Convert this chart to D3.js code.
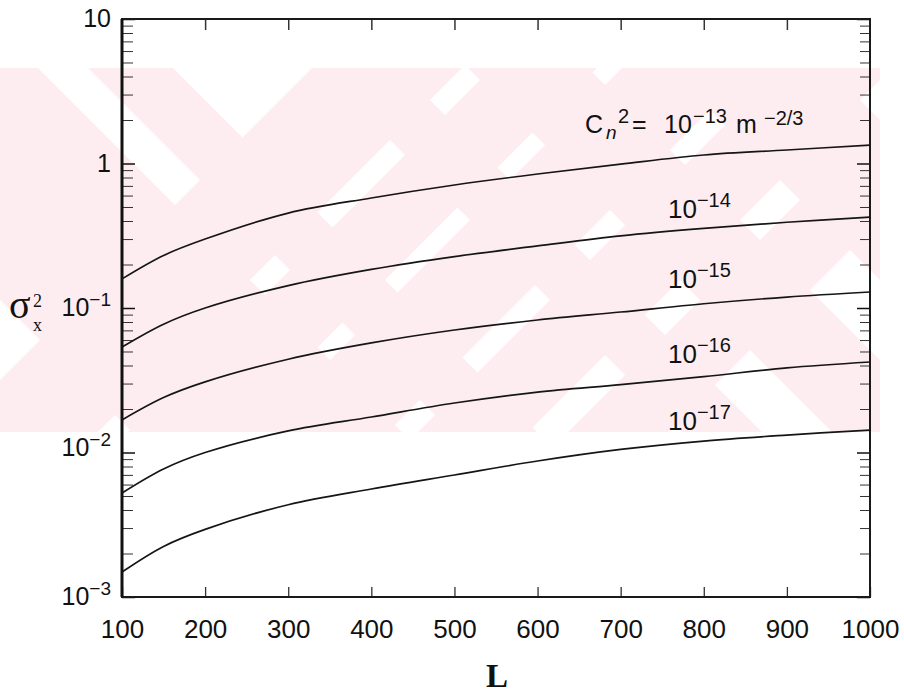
<!DOCTYPE html>
<html>
<head>
<meta charset="utf-8">
<script src="https://cdn.jsdelivr.net/npm/d3@7"></script>
<style>
    body { margin: 0; background: #fff; }
    svg text { font-family: "Liberation Sans", Arial, sans-serif; fill: #111; }
</style>
</head>
<body>
<svg id="chart" width="904" height="693"></svg>
<script>
/** Chart data **/
var L_values   = [100, 150, 200, 300, 400, 500, 600, 700, 800, 900, 1000];
var sigma_cn13 = [0.159, 0.231, 0.300, 0.454, 0.577, 0.710, 0.846, 0.99, 1.145, 1.24, 1.34];
var sigma_cn14 = [0.0537, 0.0773, 0.100, 0.143, 0.185, 0.227, 0.269, 0.316, 0.356, 0.392, 0.426];
var sigma_cn15 = [0.0168, 0.0240, 0.0308, 0.0442, 0.0573, 0.0704, 0.0826, 0.0938, 0.107, 0.119, 0.129];
var sigma_cn16 = [0.00525, 0.0077, 0.0100, 0.0141, 0.0176, 0.0220, 0.0262, 0.0295, 0.0335, 0.0385, 0.0423];
var sigma_cn17 = [0.00149, 0.00224, 0.00294, 0.00435, 0.00559, 0.00699, 0.00873, 0.0105, 0.0120, 0.0132, 0.0143];

var xTicks      = [100, 200, 300, 400, 500, 600, 700, 800, 900, 1000];
var yMajorTicks = [1e-3, 1e-2, 1e-1, 1, 10];
var yTickBase   = ["10", "10", "10", "1", "10"];
var yTickExp    = ["\u22123", "\u22122", "\u22121", "", ""];
var curveExp    = ["\u221214", "\u221215", "\u221216", "\u221217"];


var plot_left = 122;
var plot_right = 870;
var plot_top = 19;
var plot_bottom = 597;
var line_color = '#151515';
var tickColor = '#333';

var svg = d3.select("#chart");

var xScale = d3.scaleLinear()
    .domain([100, 1000])
    .range([plot_left, plot_right]);

var yScale = d3.scaleLog()
    .domain([1e-3, 10])
    .range([plot_bottom, plot_top]);


// Faint pink watermark in the background (diagonal bands).
svg.append("clipPath").attr("id", "wmClip")
    .append("rect")
    .attr("x", 0).attr("y", 68)
    .attr("width", 880).attr("height", 364);

// bands as [direction, c0, c1]: '/' means x+y in [c0,c1], '\' means x-y in [c0,c1]
var wmBands = [
    ['\\', -300, -30], ['\\', 20, 105], ['\\', 250, 330], ['\\', 400, 520], ['\\', 600, 760],
    ['/', 380, 530], ['/', 560, 665], ['/', 690, 820], ['/', 850, 960], ['/', 1000, 1100]
];
svg.append("g")
    .attr("clip-path", "url(#wmClip)")
    .selectAll("polygon")
    .data(wmBands)
    .enter()
    .append("polygon")
    .attr("points", function(d) {
        var y0 = 0, y1 = 700;
        if (d[0] == '/') {
            return [[d[2] - y0, y0], [d[1] - y0, y0], [d[1] - y1, y1], [d[2] - y1, y1]].join(" ");
        }
        return [[d[1] + y0, y0], [d[2] + y0, y0], [d[2] + y1, y1], [d[1] + y1, y1]].join(" ");
    })
    .style("fill", "#fdedf0");


// Minor log ticks (2..9 times each decade).
var yMinorTicks = [];
[1e-3, 1e-2, 1e-1, 1].forEach(function(dec) {
    for (var k = 2; k <= 9; k++) yMinorTicks.push(dec * k);
});

svg.append("g")
    .attr("transform", "translate(" + plot_left + ",0)")
    .call(d3.axisLeft(yScale).tickValues(yMinorTicks).tickSizeInner(-11).tickSizeOuter(0).tickFormat(""))
    .call(function(g) { g.select(".domain").remove(); g.selectAll("line").attr("stroke", tickColor); });

svg.append("g")
    .attr("transform", "translate(" + plot_right + ",0)")
    .call(d3.axisRight(yScale).tickValues(yMinorTicks).tickSizeInner(-10).tickSizeOuter(0).tickFormat(""))
    .call(function(g) { g.select(".domain").remove(); g.selectAll("line").attr("stroke", tickColor); });

svg.append("g")
    .attr("transform", "translate(" + plot_right + ",0)")
    .call(d3.axisRight(yScale).tickValues(yMajorTicks).tickSizeInner(-13).tickSizeOuter(0).tickFormat(""))
    .call(function(g) { g.select(".domain").remove(); g.selectAll("line").attr("stroke", "#111").attr("stroke-width", 1.5); });

// Left axis with major ticks and labels (10 with superscript exponent).
var yAxisG = svg.append("g")
    .attr("transform", "translate(" + plot_left + ",0)")
    .call(d3.axisLeft(yScale).tickValues(yMajorTicks).tickSizeInner(-13).tickSizeOuter(0).tickPadding(11).tickFormat(""));
yAxisG.select(".domain").remove();
yAxisG.selectAll("line").attr("stroke", "#111").attr("stroke-width", 1.5);
yAxisG.selectAll(".tick text")
    .attr("fill", "#111")
    .style("font-size", "25px")
    .attr("dy", function(d) { return d == 1e-2 ? "0.1em" : "0.3em"; })
    .each(function(d, i) {
        var t = d3.select(this);
        t.append("tspan").text(yTickBase[i]);
        if (yTickExp[i] != "") {
            t.append("tspan").attr("dy", -10).style("font-size", "19px").text(yTickExp[i]);
        }
    });

// Bottom axis, ticks pointing inward.
var xAxisG = svg.append("g")
    .attr("transform", "translate(0," + plot_bottom + ")")
    .call(d3.axisBottom(xScale).tickValues(xTicks).tickSizeInner(-10).tickSizeOuter(0).tickPadding(23).tickFormat(d3.format("d")));
xAxisG.select(".domain").remove();
xAxisG.selectAll("line").attr("stroke", tickColor).attr("stroke-width", 1.3);
xAxisG.selectAll("text").attr("fill", "#111").style("font-size", "26px");

// Top axis, ticks only.
svg.append("g")
    .attr("transform", "translate(0," + plot_top + ")")
    .call(d3.axisTop(xScale).tickValues(xTicks.slice(1, 9)).tickSizeInner(-11).tickSizeOuter(0).tickFormat(""))
    .call(function(g) { g.select(".domain").remove(); g.selectAll("line").attr("stroke", tickColor).attr("stroke-width", 1.5); });

// Frame.
svg.append("rect")
    .attr("x", plot_left).attr("y", plot_top)
    .attr("width", plot_right - plot_left)
    .attr("height", plot_bottom - plot_top)
    .style("fill", "none")
    .style("stroke", "#1a1a1a")
    .style("stroke-width", 2);
svg.append("line")
    .attr("x1", plot_left).attr("x2", plot_left)
    .attr("y1", plot_top).attr("y2", plot_bottom)
    .style("stroke", "#111")
    .style("stroke-width", 3);


// Curves.
var series = [sigma_cn13, sigma_cn14, sigma_cn15, sigma_cn16, sigma_cn17];

var line = d3.line()
    .x(function(d, i) { return xScale(L_values[i]); })
    .y(function(d) { return yScale(d); })
    .curve(d3.curveCatmullRom.alpha(0.5));

svg.append("g")
    .selectAll("path")
    .data(series)
    .enter()
    .append("path")
    .attr("d", line)
    .style("fill", "none")
    .style("stroke", line_color)
    .style("stroke-width", 1.7);


// Curve labels.
var lab = svg.append("text").style("font-size", "25px");
lab.append("tspan").attr("x", 585).attr("y", 133).text("C");
lab.append("tspan").attr("x", 606).attr("y", 139).style("font-style", "italic").style("font-size", "19px").text("n");
lab.append("tspan").attr("x", 618).attr("y", 123).style("font-size", "20px").text("2");
lab.append("tspan").attr("x", 632).attr("y", 133).text("=");
lab.append("tspan").attr("x", 664).attr("y", 133).text("10");
lab.append("tspan").attr("x", 693).attr("y", 123).style("font-size", "20px").text("\u221213");
lab.append("tspan").attr("x", 736).attr("y", 133).text("m");
lab.append("tspan").attr("x", 764).attr("y", 125).style("font-size", "20px").text("\u22122/3");

var curveLabelY = [218, 288, 363, 430];
curveExp.forEach(function(e, i) {
    var t = svg.append("text")
        .attr("x", 668)
        .attr("y", curveLabelY[i])
        .style("font-size", "26px");
    t.append("tspan").text("10");
    t.append("tspan").attr("dy", -11).style("font-size", "20px").text(e);
});


// Axis titles.
svg.append("text")
    .attr("x", 497).attr("y", 687)
    .attr("text-anchor", "middle")
    .style("font-family", "'Liberation Serif', 'Times New Roman', serif")
    .style("font-weight", "bold")
    .style("font-size", "33px")
    .text("L");

var ylab = svg.append("g");
ylab.append("text").attr("x", 9).attr("y", 318)
    .style("font-family", "'Liberation Serif', serif").style("font-size", "40px").text("\u03c3");
ylab.append("text").attr("x", 33).attr("y", 307)
    .style("font-family", "'Liberation Serif', serif").style("font-size", "18px").text("2");
ylab.append("text").attr("x", 33).attr("y", 331)
    .style("font-family", "'Liberation Serif', serif").style("font-size", "18px").text("x");
</script>
</body>
</html>
